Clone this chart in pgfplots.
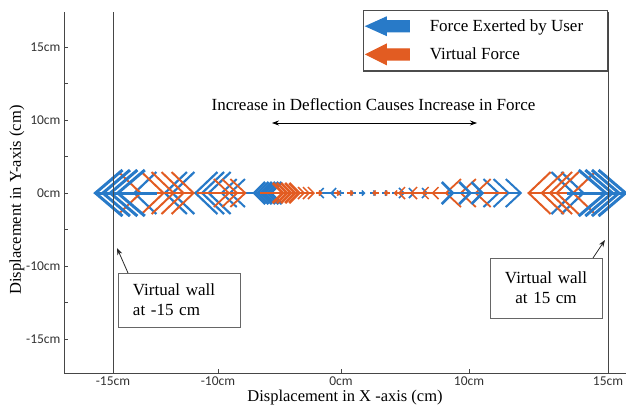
\documentclass[border=0pt]{standalone}
\usepackage{pgfplots}
\pgfplotsset{compat=1.18}
\usepackage{fontspec}
\setmainfont{Liberation Serif}
\newfontfamily\tickfont{Carlito}
\usetikzlibrary{arrows.meta}
\definecolor{ublue}{RGB}{40,122,200}
\definecolor{vorange}{RGB}{226,92,34}
\definecolor{axgray}{RGB}{70,70,70}
\pgfplotsset{
  qv/.style n args={4}{color=#1, line width=#2,
    -{Straight Barb[length=#3, width=#4]},
    quiver={u=\thisrow{u}, v=0}, forget plot}
}
\begin{document}
\begin{tikzpicture}
\useasboundingbox (0,0) rectangle (626pt,409pt);
\begin{axis}[
  at={(64pt,36pt)}, anchor=south west,
  scale only axis, width=562pt, height=361pt,
  xmin=-17.97, xmax=16.09, ymin=-4.93, ymax=4.96,
  axis x line*=bottom, axis y line*=left,
  axis line style={axgray, line width=0.9pt, -},
  tick align=inside, major tick length=4pt,
  tick style={axgray, line width=0.6pt},
  xtick={-15,-8.64,-1.18,6.58,15},
  xticklabels={-15cm,-10cm,0cm,10cm,15cm},
  ytick={-4,-3,...,4},
  yticklabels={-15cm,,-10cm,,0cm,,10cm,,15cm},
  ticklabel style={font=\tickfont\fontsize{13.5}{14}\selectfont, text=black!80},
  xlabel={Displacement in X -axis (cm)},
  ylabel={Displacement in Y-axis (cm)},
  label style={font=\fontsize{16.5}{18}\selectfont},
  xlabel style={at={(axis description cs:0.5,-0.069)}, anchor=center},
  ylabel style={at={(axis description cs:-0.0836,0.479)}, anchor=center},
  legend style={at={(axis description cs:0.532,1.0055)}, anchor=north west,
    draw=black!70, line width=1.2pt, fill=white, inner xsep=2pt, inner ysep=6pt,
    row sep=8pt, column sep=20pt, font=\fontsize{17}{19}\selectfont,
    cells={anchor=west}, nodes={inner sep=0pt}},
]
\addlegendimage{legend image code/.code={\fill[ublue] (0pt,0pt) -- (20pt,9pt) -- (20pt,5.5pt) -- (43pt,5.5pt) -- (43pt,-5.5pt) -- (20pt,-5.5pt) -- (20pt,-9pt) -- cycle;}}
\addlegendentry{\makebox[176pt][l]{Force Exerted by User}}
\addlegendimage{legend image code/.code={\fill[vorange] (0pt,0pt) -- (20pt,10pt) -- (20pt,5.5pt) -- (43pt,5.5pt) -- (43pt,-5.5pt) -- (20pt,-5.5pt) -- (20pt,-10pt) -- cycle;}}
\addlegendentry{\makebox[176pt][l]{Virtual Force}}

% B2 blue, large
\addplot[qv={ublue}{2.2pt}{22pt}{42pt}] table[row sep=\\] {
x y u \\
-11.8 0 -2 \\ -9.95 0 -2 \\ -9.5 0 -2 \\ -8.1 0 -2 \\ -7.7 0 -2 \\ -7.3 0 -2 \\
11.0 0 2 \\ 11.6 0 2 \\
};
% O1 orange, large
\addplot[qv={vorange}{2pt}{22pt}{42pt}] table[row sep=\\] {
x y u \\
-15.74 0 2.5 \\ -14.35 0 2.5 \\ -13.74 0 2.5 \\ -13.14 0 2.5 \\ -12.53 0 2.5 \\
12.6 0 -2.5 \\ 13.4 0 -2.5 \\ 13.9 0 -2.5 \\ 14.3 0 -2.5 \\ 15.3 0 -2.5 \\
};
% B3 blue, medium
\addplot[qv={ublue}{2pt}{15pt}{28pt}] table[row sep=\\] {
x y u \\
-7.0 0 -1.5 \\ -6.5 0 -1.5 \\
6.95 0 1.5 \\ 7.56 0 1.5 \\ 8.3 0 1.5 \\
};
% O2 orange, medium
\addplot[qv={vorange}{1.8pt}{15pt}{28pt}] table[row sep=\\] {
x y u \\
-9.9 0 2 \\ -9.4 0 2 \\ -8.9 0 2 \\
7.1 0 -2 \\ 8.0 0 -2 \\ 8.9 0 -2 \\
};
% B4 blue, dense
\addplot[qv={ublue}{2.6pt}{11pt}{22pt}] table[row sep=\\] {
x y u \\
-5.35 0 -1.2 \\ -5.15 0 -1.2 \\ -4.95 0 -1.2 \\ -4.75 0 -1.2 \\ -4.55 0 -1.2 \\ -4.35 0 -1.2 \\
4.5 0 1.2 \\ 5.56 0 1.2 \\ 6.3 0 1.2 \\
};
% O3 orange, dense
\addplot[qv={vorange}{2.6pt}{10pt}{20pt}] table[row sep=\\] {
x y u \\
-6.1 0 1.5 \\ -5.85 0 1.5 \\ -5.6 0 1.5 \\ -5.35 0 1.5 \\ -5.1 0 1.5 \\
};
% B5 blue, small
\addplot[qv={ublue}{1.6pt}{5pt}{10pt}] table[row sep=\\] {
x y u \\
-1.8 0 -0.8 \\ -1.05 0 -0.8 \\
1.9 0 0.8 \\ 2.5 0 0.8 \\ 3.3 0 0.8 \\
};
% O4 orange, small
\addplot[qv={vorange}{1.5pt}{6pt}{12pt}] table[row sep=\\] {
x y u \\
-4.36 0 1 \\ -4.06 0 1 \\ -3.76 0 1 \\
3.27 0 -1 \\ 4.0 0 -1 \\ 4.7 0 -1 \\ 5.3 0 -1 \\
};
% B6 blue, tiny
\addplot[qv={ublue}{1.5pt}{2.5pt}{5pt}] table[row sep=\\] {
x y u \\
-1.0 0 -0.4 \\ -0.3 0 -0.4 \\ -0.1 0 0.4 \\ 0.6 0 0.4 \\ 1.3 0 0.4 \\
};
% O5 orange, tiny
\addplot[qv={vorange}{1.5pt}{2.5pt}{5pt}] table[row sep=\\] {
x y u \\
-2.7 0 0.4 \\ -1.6 0 0.4 \\ -0.8 0 0.4 \\
1.1 0 -0.4 \\ 1.8 0 -0.4 \\ 2.4 0 -0.4 \\
};
% B1 blue, largest
\addplot[qv={ublue}{3pt}{27pt}{46pt}] table[row sep=\\] {
x y u \\
-13.7 0 -2.5 \\ -13.25 0 -2.5 \\ -12.8 0 -2.5 \\ -12.35 0 -2.5 \\
12.5 0 2.5 \\ 12.9 0 2.5 \\ 13.3 0 2.5 \\ 13.7 0 2.5 \\
};

% virtual walls
\addplot[axgray, line width=0.8pt, forget plot] coordinates {(-15,-4.93) (-15,4.96)};
\addplot[axgray, line width=0.8pt, forget plot] coordinates {(15,-4.93) (15,4.96)};

% annotations
\draw[{Stealth[length=7pt,width=5pt]}-{Stealth[length=7pt,width=5pt]}, line width=0.7pt]
  (rel axis cs:0.3701,0.6925) -- (rel axis cs:0.7349,0.6925);
\node[font=\fontsize{17}{20}\selectfont] at (rel axis cs:0.5507,0.7424)
  {Increase in Deflection Causes Increase in Force};

\node[draw=black!60, line width=0.8pt, fill=white, text width=92pt, inner xsep=15pt,
  minimum height=54pt, align=left, font=\fontsize{17}{20}\selectfont]
  at (rel axis cs:0.2046,0.2022) {Virtual wall\\at -15 cm};
\draw[-{Stealth[length=7pt,width=5pt]}, black!85, line width=0.8pt]
  (rel axis cs:0.1139,0.277) -- (rel axis cs:0.0943,0.3463);

\node[draw=black!60, line width=0.8pt, fill=white, text width=92pt, inner xsep=10pt,
  minimum height=60pt, align=center, font=\fontsize{17}{20}\selectfont]
  at (rel axis cs:0.8577,0.2355) {Virtual wall\\at 15 cm};
\draw[-{Stealth[length=7pt,width=5pt]}, black!85, line width=0.8pt]
  (rel axis cs:0.9413,0.3186) -- (rel axis cs:0.9626,0.3684);
\end{axis}
\end{tikzpicture}
\end{document}
